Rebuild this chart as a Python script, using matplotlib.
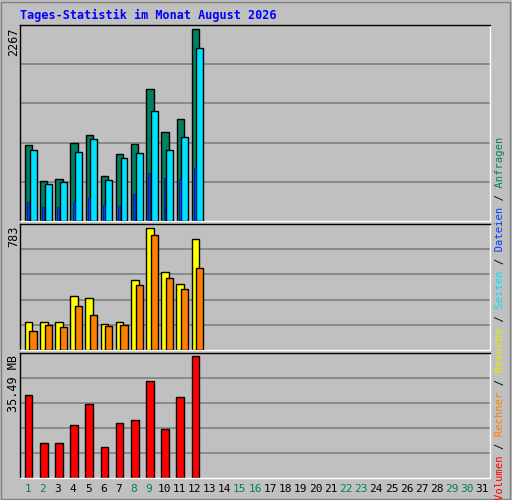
import matplotlib
matplotlib.use("Agg")
import matplotlib.pyplot as plt
from matplotlib.patches import Rectangle

days = list(range(1, 32))
weekend = [1, 2, 8, 9, 15, 16, 22, 23, 29, 30]
data_days = list(range(1, 13))
anfragen = [900, 472, 495, 923, 1019, 531, 793, 912, 1554, 1054, 1209, 2267]
dateien = [840, 436, 460, 816, 971, 483, 745, 805, 1304, 840, 995, 2041]
seiten = [222, 162, 162, 222, 269, 186, 174, 317, 567, 507, 495, 626]
besuche = [183, 183, 183, 346, 333, 170, 183, 450, 783, 502, 424, 711]
rechner = [124, 163, 150, 281, 228, 157, 163, 418, 737, 463, 392, 529]
volumen = [24.16, 10.14, 10.14, 15.51, 21.47, 8.95, 16.11, 17.0, 28.33, 14.32, 23.56, 35.49]

BG = "#c0c0c0"
MONO = "DejaVu Sans Mono"
W, H = 512, 500
fig = plt.figure(figsize=(5.12, 5.0), dpi=100, facecolor=BG)

fig.patches.append(Rectangle((1/W, 1/H), 1-3/W, 1-3/H, transform=fig.transFigure,
                             fill=False, ec="#808080", lw=1))
fig.text(20/W, 1-15/H, "Tages-Statistik im Monat August 2026", color="#0000ff",
         fontweight="bold", family=MONO, fontsize=8.5, va="center")

def mkax(top, bot):
    ax = fig.add_axes([20/W, 1-bot/H, 470/W, (bot-top)/H])
    ax.set_facecolor(BG)
    ax.set_xlim(0.5, 31.5)
    ax.set_xticks([]); ax.set_yticks([])
    for s in ax.spines.values():
        s.set_color("black"); s.set_linewidth(1)
    ax.spines["bottom"].set_color("white"); ax.spines["right"].set_color("white")
    for f in (0.2, 0.4, 0.6, 0.8):
        ax.plot([0, 1], [f, f], color="#808080", lw=1.2, transform=ax.transAxes, zorder=0)
    return ax

def ylabel(ax, s):
    ax.text(-0.013, 0.985, s, transform=ax.transAxes, rotation=90, ha="center", va="top",
            family=MONO, fontsize=8.5)

ax1 = mkax(25, 221)
ax1.set_ylim(0, max(anfragen)/0.98)
ax1.bar([d+0.07 for d in data_days], anfragen, width=0.48, color="#008060", ec="black", lw=1, zorder=2)
ax1.bar([d+0.36 for d in data_days], dateien, width=0.46, color="#00e0ff", ec="black", lw=1, zorder=3)
ax1.bar([d+0.03 for d in data_days], seiten, width=0.13, color="#0040ff", ec="#002080", lw=0.6, zorder=4)
ylabel(ax1, "2267")

ax2 = mkax(224, 350)
ax2.set_ylim(0, max(besuche)/0.966)
ax2.bar([d+0.07 for d in data_days], besuche, width=0.5, color="#ffff00", ec="black", lw=1, zorder=2)
ax2.bar([d+0.36 for d in data_days], rechner, width=0.48, color="#ff8000", ec="black", lw=1, zorder=3)
ylabel(ax2, "783")

ax3 = mkax(353, 478)
ax3.set_ylim(0, max(volumen)/0.974)
ax3.bar([d+0.07 for d in data_days], volumen, width=0.5, color="#ff0000", ec="black", lw=1, zorder=2)
ylabel(ax3, "35.49 MB")

for d in days:
    x = (20 + (d-0.5)/31*470)/W
    fig.text(x, 1-489/H, str(d), ha="center", va="center", fontsize=8,
             color="#008060" if d in weekend else "black", family=MONO)

parts = [("Volumen", "#ff0000"), (" / ", "#000000"), ("Rechner", "#ff8000"), (" / ", "#000000"),
         ("Besuche", "#e8e800"), (" / ", "#000000"), ("Seiten", "#00e0ff"), (" / ", "#000000"),
         ("Dateien", "#0040ff"), (" / ", "#000000"), ("Anfragen", "#008060")]
full = "".join(p for p, _ in parts)
pos = 0
for p, c in parts:
    s = " " * pos + p + " " * (len(full) - pos - len(p))
    s = s.replace(" ", "\u2007") if False else s
    fig.text(500/W, 1-318/H, s, rotation=90, ha="center", va="center", color=c,
             family=MONO, fontsize=7.6)
    pos += len(p)

fig.savefig("out.png", dpi=100, facecolor=BG)
